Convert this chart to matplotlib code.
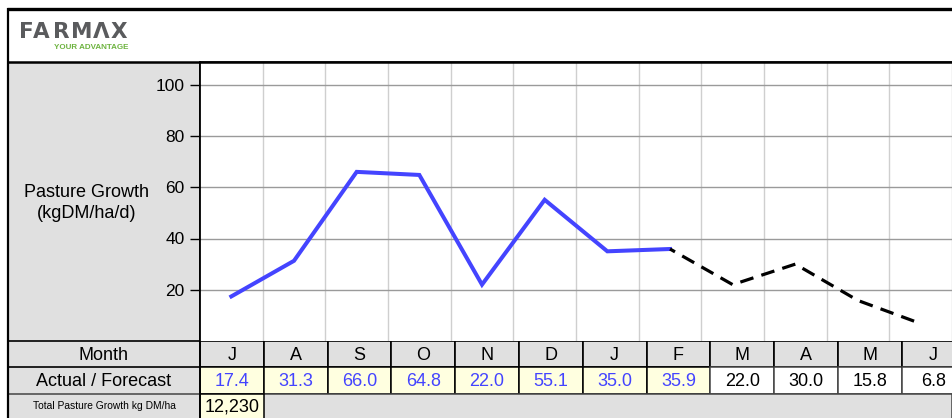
import numpy as np
import matplotlib
matplotlib.use('Agg')
import matplotlib.pyplot as plt
from matplotlib.patches import Rectangle

# ---- data ----
months = ['J', 'A', 'S', 'O', 'N', 'D', 'J', 'F', 'M', 'A', 'M', 'J']
actual = [17.4, 31.3, 66.0, 64.8, 22.0, 55.1, 35.0, 35.9]
forecast = [22.0, 30.0, 15.8, 6.8]
total_growth = '12,230'
yticks = [20, 40, 60, 80, 100]
logo_letters = ['F', 'A', 'R', 'M', '\u039b', 'X']

plt.rcParams['font.family'] = ['Liberation Sans', 'DejaVu Sans']

W, H = 952, 418
fig = plt.figure(figsize=(W / 100, H / 100), dpi=100)

# background layer in pixel coords
bg = fig.add_axes([0, 0, 1, 1], zorder=0)
bg.set_xlim(0, W)
bg.set_ylim(H, 0)
bg.axis('off')

grey = '#e0e0e0'
yellow = '#ffffe0'
blue = '#4444ff'
x0 = 200          # left edge of first month column
col_w = 63.8
plot_top, plot_bot = 62, 341
row_month, row_val, row_tot = 341, 367, 394

# left panel
bg.add_patch(Rectangle((9, plot_top), x0 - 9, H - plot_top, fc=grey, ec='none'))

# table cells
for i, m in enumerate(months):
    cx = x0 + i * col_w
    bg.add_patch(Rectangle((cx, row_month), col_w, row_val - row_month,
                           fc=grey, ec='black', lw=1.2))
    is_act = i < len(actual)
    bg.add_patch(Rectangle((cx, row_val), col_w, row_tot - row_val,
                           fc=yellow if is_act else 'white',
                           ec='black' if is_act else '#444444', lw=1.1))
    bg.text(cx + col_w / 2, (row_month + row_val) / 2 + 1, m, ha='center', va='center',
            fontsize=13, color='black')
    if is_act:
        val, col = actual[i], blue
    else:
        val, col = forecast[i - len(actual)], 'black'
    bg.text(cx + col_w / 2, (row_val + row_tot) / 2 + 1, f'{val:.1f}', ha='center',
            va='center', fontsize=13, color=col)

# total row
bg.add_patch(Rectangle((x0, row_tot), W - x0, H - row_tot + 5, fc=grey, ec='#444444', lw=1.1))
bg.add_patch(Rectangle((x0, row_tot), col_w, H - row_tot + 5, fc=yellow, ec='black', lw=1.1))
bg.text(x0 + col_w / 2, (row_tot + H) / 2 + 1, total_growth, ha='center', va='center',
        fontsize=13, color='black')

# left panel text and rules
bg.hlines([row_month, row_val], 9, x0, color='black', lw=1.2)
bg.hlines([row_tot], 9, x0, color='#444444', lw=1.1)
bg.text(104, (row_month + row_val) / 2 + 1, 'Month', ha='center', va='center', fontsize=13)
bg.text(104, (row_val + row_tot) / 2 + 1, 'Actual / Forecast', ha='center', va='center',
        fontsize=13)
bg.text(104, (row_tot + H) / 2, 'Total Pasture Growth kg DM/ha', ha='center', va='center',
        fontsize=7.4)
bg.text(87, 203, 'Pasture Growth\n(kgDM/ha/d)', ha='center', va='center', fontsize=13,
        linespacing=1.25)
bg.vlines(x0, plot_top, H, color='black', lw=1.3)

# frame
bg.hlines(9, 7, W, color='black', lw=2.4)
bg.hlines(plot_top, 7, W, color='black', lw=1.8)
bg.vlines(8, 8, H, color='black', lw=1.6)

# logo
logo_x = [19, 33, 53, 71, 93, 111]
for ch, lx in zip(logo_letters, logo_x):
    bg.text(lx, 38, ch, ha='left', va='baseline', fontsize=15.5, fontweight='bold',
            family='DejaVu Sans', color='#5a5b5d')
bg.text(54, 47.5, 'YOUR ADVANTAGE', ha='left', va='center', fontsize=5.8,
        fontweight='bold', color='#6db33f')

# ---- chart ----
ax = fig.add_axes([x0 / W, (H - plot_bot) / H, (W - x0) / W, (plot_bot - plot_top) / H],
                  zorder=1)
ax.set_facecolor('white')
ax.set_xlim(-0.5, -0.5 + (W - x0) / col_w)
ax.set_ylim(0, (plot_bot - plot_top) / 2.5625)

xa = np.arange(len(actual))
ax.plot(xa, actual, color=blue, lw=2.9, solid_joinstyle='miter', zorder=3)
xf = np.arange(len(actual) - 1, len(actual) + len(forecast))
ax.plot(xf, [actual[-1]] + forecast, color='black', lw=2.3,
        linestyle=(2.5, (4.3, 2.6)), zorder=3)

ax.set_yticks(yticks)
ax.tick_params(axis='y', length=7, width=1, pad=4, labelsize=12.5, colors='black')
ax.set_xticks(np.arange(len(months)) + 0.5)
ax.set_xticklabels([])
ax.tick_params(axis='x', length=0)
ax.grid(axis='y', color='#9a9a9a', lw=1.0)
ax.grid(axis='x', color='#cfcfcf', lw=1.0)
ax.set_axisbelow(True)
for s in ['right', 'bottom']:
    ax.spines[s].set_visible(False)
ax.spines['top'].set_linewidth(1.8)
ax.spines['left'].set_linewidth(1.3)

fig.savefig('out.png', dpi=100)
